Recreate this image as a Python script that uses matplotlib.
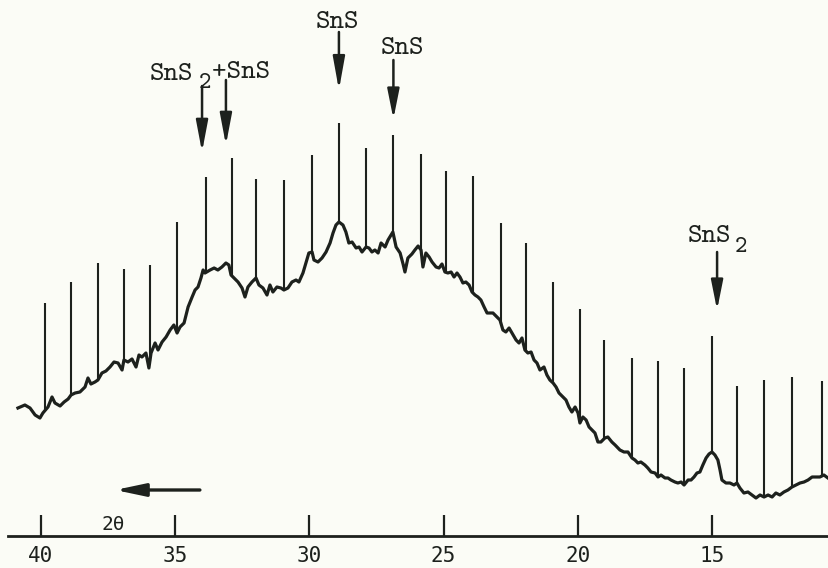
import numpy as np
import matplotlib
matplotlib.use("Agg")
import matplotlib.pyplot as plt
from matplotlib.patches import ArrowStyle

two_theta = [
    40.86, 40.60, 40.41, 40.22, 40.04, 39.93, 39.74, 39.59, 39.48, 39.29,
    39.14, 38.99, 38.88, 38.73, 38.55, 38.36, 38.25, 38.14, 37.99, 37.88,
    37.73, 37.58, 37.43, 37.28, 37.13, 36.98, 36.91, 36.76, 36.61, 36.46,
    36.35, 36.24, 36.09, 35.98, 35.90, 35.75, 35.64, 35.49, 35.34, 35.19,
    35.05, 34.93, 34.82, 34.67, 34.52, 34.37, 34.26, 34.15, 34.04, 33.96,
    33.89, 33.70, 33.55, 33.41, 33.26, 33.11, 33.00, 32.92, 32.81, 32.66,
    32.51, 32.40, 32.29, 32.14, 31.99, 31.88, 31.73, 31.58, 31.47, 31.36,
    31.21, 31.06, 30.95, 30.80, 30.65, 30.50, 30.39, 30.24, 30.13, 30.02,
    29.90, 29.83, 29.68, 29.53, 29.38, 29.23, 29.12, 29.01, 28.90, 28.75,
    28.64, 28.53, 28.41, 28.26, 28.15, 28.04, 27.89, 27.78, 27.67, 27.56,
    27.44, 27.33, 27.18, 27.07, 26.96, 26.89, 26.77, 26.62, 26.51, 26.44,
    26.33, 26.18, 26.07,
    25.95, 25.84, 25.77, 25.66, 25.54, 25.43, 25.28, 25.17, 25.06, 24.95,
    24.84, 24.72, 24.61, 24.50, 24.39, 24.28, 24.17, 24.05, 23.94, 23.83,
    23.72, 23.61, 23.49, 23.38, 23.27, 23.16, 23.01, 22.90, 22.79, 22.68,
    22.56, 22.41, 22.30, 22.19, 22.08, 21.97, 21.86, 21.74, 21.63, 21.52,
    21.41, 21.26, 21.15, 21.04, 20.92, 20.81, 20.70, 20.55, 20.44, 20.33,
    20.22, 20.10, 19.99, 19.92, 19.81, 19.69, 19.58, 19.47, 19.36, 19.25,
    19.14, 18.99, 18.88, 18.73, 18.61,
    18.43, 18.28, 18.13, 17.98, 17.87, 17.76, 17.65, 17.50, 17.39, 17.27,
    17.12, 17.01, 16.90, 16.75, 16.64, 16.53, 16.38, 16.27, 16.15, 16.04,
    15.89, 15.78, 15.67, 15.56, 15.45, 15.34, 15.22, 15.11, 15.00, 14.89,
    14.78, 14.70, 14.63, 14.48, 14.33, 14.18, 14.07, 13.96, 13.81, 13.66,
    13.51, 13.36, 13.21, 13.06, 12.91, 12.76, 12.62, 12.47, 12.32, 12.17,
    12.02, 11.87, 11.72, 11.57, 11.42, 11.27, 11.13, 10.98, 10.83, 10.68,
]
intensity = [
    128, 131, 128, 121, 118, 123, 129, 139, 133, 130,
    134, 137, 141, 143, 144, 149, 158, 152, 154, 156,
    163, 165, 169, 174, 173, 166, 176, 174, 177, 169,
    181, 179, 183, 168, 183, 193, 186, 194, 199, 206,
    211, 203, 209, 213, 229, 239, 246, 249, 258, 266,
    263, 266, 268, 266, 269, 273, 271, 261, 258, 254,
    248, 239, 249, 254, 258, 251, 248, 241, 251, 244,
    249, 248, 246, 248, 254, 256, 254, 263, 273, 283,
    284, 276, 274, 278, 284, 293, 303, 311, 314, 311,
    304, 293, 294, 288, 289, 284, 289, 288, 284, 286,
    283, 293, 289, 296, 301, 304, 289, 283, 272, 264,
    278, 282, 286,
    290, 286, 269, 283, 279, 274, 269, 268, 272, 264,
    263, 264, 259, 263, 259, 253, 254, 251, 244, 241,
    239, 236, 229, 223, 223, 223, 219, 216, 206, 204,
    208, 201, 196, 193, 198, 186, 183, 184, 176, 173,
    166, 169, 161, 156, 153, 149, 143, 139, 136, 129,
    124, 129, 123, 113, 119, 116, 109, 106, 103, 94,
    94, 98, 99, 94, 91,
    86, 84, 84, 78, 76, 73, 74, 71, 68, 64,
    63, 59, 61, 58, 58, 56, 54, 53, 54, 51,
    56, 56, 59, 63, 64, 71, 78, 82, 84, 81,
    76, 66, 56, 53, 53, 51, 53, 48, 43, 44,
    41, 38, 41, 39, 41, 39, 43, 41, 44, 46,
    49, 51, 53, 54, 56, 59, 59, 59, 61, 58,
]

# vertical marker spikes (position in 2theta, top intensity)
spike_pos = [39.85, 38.88, 37.88, 36.91, 35.94, 34.93, 33.85, 32.88, 31.99, 30.95,
             29.90, 28.90, 27.89, 26.89, 25.84, 24.91, 23.90, 22.86, 21.93, 20.92,
             19.92, 19.02, 17.98, 17.01, 16.04, 15.00, 14.07, 13.06, 12.02, 10.90]
spike_top = [233, 254, 273, 267, 271, 314, 359, 378, 357, 356,
             381, 413, 388, 401, 382, 365, 360, 313, 293, 254,
             227, 196, 178, 175, 168, 200, 150, 156, 159, 155]

tick_values = [40, 35, 30, 25, 20, 15]
tick_labels = ["40", "35", "30", "25", "20", "15"]

# ---------------- drawing ----------------
INK = "#1d211d"
PAPER = "#fbfcf6"

fig = plt.figure(figsize=(8.29, 5.68), dpi=100, facecolor=PAPER)
ax = fig.add_axes([0, 0, 1, 1], facecolor=PAPER)
ax.set_xlim(41.528, 10.64)
ax.set_ylim(-32, 536)

tt = np.asarray(two_theta)
ii = np.asarray(intensity)
ax.plot(tt, ii, color=INK, lw=2.3, solid_joinstyle="round", zorder=3)

base = np.interp(spike_pos, tt[::-1], ii[::-1])
ax.vlines(spike_pos, base, spike_top, color=INK, lw=1.5, zorder=2)

# axis
for s in ["top", "right", "left"]:
    ax.spines[s].set_visible(False)
ax.spines["bottom"].set_position(("data", 0))
ax.spines["bottom"].set_linewidth(2.0)
ax.spines["bottom"].set_color(INK)
ax.spines["bottom"].set_bounds(41.23, 10.64)
ax.set_yticks([])
ax.set_xticks(tick_values)
ax.set_xticklabels(tick_labels, family="DejaVu Sans Mono", fontsize=15, color=INK)
ax.tick_params(axis="x", direction="in", length=15, width=1.6, color=INK, pad=7)

ax.text(37.29, 12, "2θ", family="DejaVu Sans Mono", fontsize=14, color=INK,
        ha="center", va="center")


def arrow(x, y0, y1, hl=18):
    ax.annotate("", xy=(x, y1), xytext=(x, y0),
                arrowprops=dict(arrowstyle=ArrowStyle("-|>", head_length=hl, head_width=3.6),
                                mutation_scale=1, lw=1.8, color=INK,
                                shrinkA=0, shrinkB=0))


# direction arrow
ax.annotate("", xy=(37.24, 46), xytext=(34.08, 46),
            arrowprops=dict(arrowstyle=ArrowStyle("-|>", head_length=18, head_width=3.8),
                            mutation_scale=1, lw=2.4, color=INK, shrinkA=0, shrinkB=0))

FONT = "cmtt10"
FS = 20
SUB = 17
# SnS (top)
ax.text(28.97, 514, "SnS", family=FONT, fontsize=FS, color=INK, ha="center", va="center")
arrow(28.90, 504, 446, hl=20)
# SnS (second)
ax.text(26.55, 488, "SnS", family=FONT, fontsize=FS, color=INK, ha="center", va="center")
arrow(26.87, 476, 417, hl=18)
# SnS2 + SnS
ax.text(35.94, 462, "SnS", family=FONT, fontsize=FS, color=INK, ha="left", va="center")
ax.text(33.88, 452, "2", family=FONT, fontsize=SUB, color=INK, ha="center", va="center")
ax.text(33.63, 464, "+SnS", family=FONT, fontsize=FS, color=INK, ha="left", va="center")
arrow(34.00, 450, 384, hl=19)
arrow(33.11, 456, 391, hl=19)
# SnS2 (right)
ax.text(15.89, 299, "SnS", family=FONT, fontsize=FS, color=INK, ha="left", va="center")
ax.text(13.92, 289, "2", family=FONT, fontsize=SUB, color=INK, ha="center", va="center")
arrow(14.81, 284, 226, hl=18)

fig.savefig("out.png", dpi=100, facecolor=PAPER)
